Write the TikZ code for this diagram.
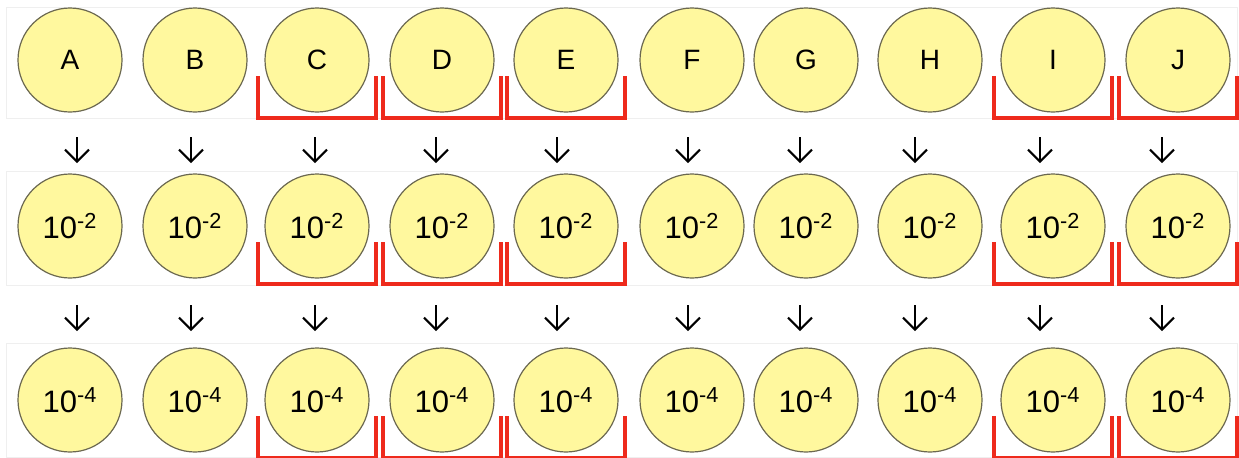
\documentclass[tikz,border=0pt]{standalone}
\usepackage{fontspec}
\setmainfont{Liberation Sans}
\usetikzlibrary{arrows.meta}
\definecolor{dlyellow}{HTML}{FFF89E}
\definecolor{dledge}{HTML}{6B6850}
\definecolor{dlred}{HTML}{EE2A1C}
\definecolor{dlgrid}{HTML}{EFEFEF}
\tikzset{
  well/.style={circle,draw=dledge,fill=dlyellow,line width=0.6pt,
               minimum size=52pt,inner sep=0pt,text=black},
  letter/.style={font=\fontsize{14}{16}\selectfont},
  dil/.style={font=\fontsize{15.5}{18}\selectfont},
  tray/.style={draw=dlred,line width=1.6pt,line join=miter},
  rowbox/.style={draw=dlgrid,line width=0.4pt},
  dilute/.style={-{Straight Barb[length=6pt,width=12pt,line width=1pt]},line width=1pt,black},
}

\begin{document}
\begin{tikzpicture}[x=0.5pt,y=-0.5pt]
  \useasboundingbox (0,0) rectangle (1239,457);
  % faint row frames
  \draw[rowbox] (6,7) rectangle (1237,118);
  \draw[rowbox] (6,171) rectangle (1237,285);
  \draw[rowbox] (6,343) rectangle (1237,457);
  % samples and their dilutions
  \foreach \lab/\cx/\ax in {A/70/77,B/195/191,C/317/315,D/442/436,E/566/557,
                           F/692/688,G/806/800,H/930/915,I/1053/1040,J/1178/1162}{
    \node[well,letter] (\lab0) at (\cx,60) {\lab};
    \node[well,dil] (\lab2) at (\cx,226) {10\textsuperscript{-2}};
    \node[well,dil] (\lab4) at (\cx,400) {10\textsuperscript{-4}};
    \coordinate (\lab a) at (\ax,137);
    \coordinate (\lab b) at (\ax,163);
    \coordinate (\lab c) at (\ax,305);
    \coordinate (\lab d) at (\ax,331);
    \draw[dilute] (\lab a) -- (\lab b);
    \draw[dilute] (\lab c) -- (\lab d);
  }
  % red trays
  \foreach \lab in {C,D,E,I,J}{
    \foreach \d in {0,2,4}{
      \draw[tray] ([shift={(-59,16)}]\lab\d.center) -- ([shift={(-59,58)}]\lab\d.center)
        -- ([shift={(59,58)}]\lab\d.center) -- ([shift={(59,16)}]\lab\d.center);
    }
  }
\end{tikzpicture}
\end{document}
